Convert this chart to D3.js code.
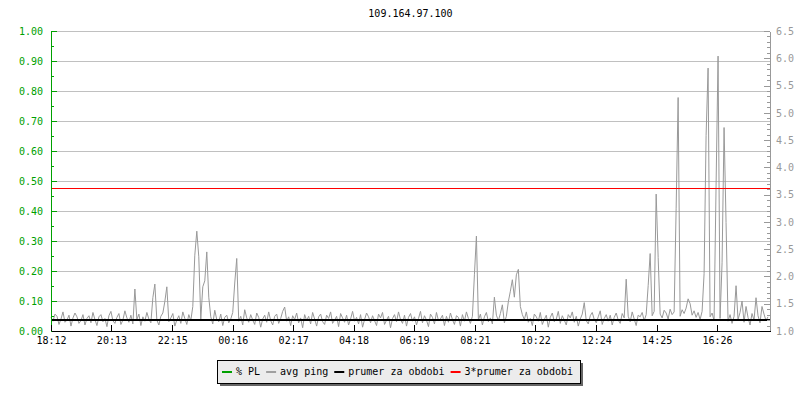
<!DOCTYPE html>
<html><head><meta charset="utf-8">
<script src="https://cdn.jsdelivr.net/npm/d3@7"></script>
<style>
html,body{margin:0;padding:0;background:#fff;}
svg{display:block;font-family:"DejaVu Sans Mono",monospace;font-size:10px;}
</style></head><body>
<svg id="chart" width="800" height="400"></svg>
<script>
// ---------------- data ----------------
const title = "109.164.97.100";
const startLabel = "18:12";
const stepMinutes = 4;
const spanMinutes = 1440;
const timeTickLabels = ["18:12","20:13","22:15","00:16","02:17","04:18","06:19","08:21","10:22","12:24","14:25","16:26"];
const plTickValues = [0,0.1,0.2,0.3,0.4,0.5,0.6,0.7,0.8,0.9,1.0];
const plTickLabels = ["0.00","0.10","0.20","0.30","0.40","0.50","0.60","0.70","0.80","0.90","1.00"];
const pingTickLabels = ["1.0","1.5","2.0","2.5","3.0","3.5","4.0","4.5","5.0","5.5","6.0","6.5"];
const avgPing = 1.204;
const legendLabels = ["% PL","avg ping","prumer za obdobi","3*prumer za obdobi"];
const pingValues = [
1.25,1.18,1.31,1.27,1.12,1.22,1.35,1.16,1.20,1.29,1.09,1.24,1.33,1.26,1.14,1.19,1.30,1.11,1.23,1.28,
1.15,1.34,1.21,1.10,1.26,1.30,1.17,1.23,1.08,1.28,1.36,1.19,1.14,1.25,1.32,1.12,1.20,1.37,1.24,1.16,
1.29,1.13,1.77,1.21,1.31,1.10,1.26,1.18,1.34,1.22,1.15,1.61,1.86,1.20,1.11,1.27,1.33,1.54,1.81,1.17,
1.24,1.32,1.09,1.20,1.28,1.14,1.35,1.23,1.12,1.30,1.19,1.45,2.39,2.83,2.36,1.22,1.81,1.92,2.45,1.62,
1.26,1.13,1.38,1.21,1.17,1.31,1.10,1.25,1.29,1.15,1.22,1.34,1.88,2.33,1.18,1.27,1.11,1.39,1.24,1.16,
1.30,1.20,1.12,1.33,1.25,1.07,1.22,1.29,1.16,1.35,1.19,1.11,1.27,1.31,1.14,1.23,1.36,1.44,1.18,1.26,
1.10,1.28,1.21,1.33,1.15,1.24,1.06,1.30,1.19,1.27,1.13,1.34,1.22,1.09,1.26,1.31,1.17,1.12,1.29,1.23,
1.35,1.14,1.20,1.27,1.08,1.32,1.24,1.16,1.29,1.11,1.22,1.36,1.18,1.25,1.13,1.30,1.07,1.21,1.33,1.26,
1.15,1.28,1.19,1.10,1.31,1.24,1.34,1.12,1.20,1.27,1.06,1.23,1.30,1.17,1.35,1.21,1.14,1.29,1.09,1.25,
1.32,1.18,1.26,1.11,1.23,1.36,1.15,1.28,1.20,1.08,1.31,1.25,1.13,1.34,1.19,1.22,1.29,1.10,1.27,1.16,
1.33,1.21,1.12,1.28,1.25,1.09,1.30,1.18,1.35,1.23,1.14,1.27,2.03,2.74,1.20,1.31,1.11,1.26,1.34,1.17,
1.24,1.13,1.62,1.29,1.19,1.32,1.48,1.15,1.27,1.54,1.73,1.94,1.62,2.03,2.13,1.45,1.30,1.21,1.35,1.16,
1.23,1.10,1.31,1.26,1.18,1.34,1.12,1.21,1.29,1.07,1.25,1.33,1.17,1.22,1.36,1.14,1.28,1.20,1.11,1.30,
1.24,1.35,1.16,1.27,1.09,1.22,1.31,1.52,1.19,1.13,1.28,1.34,1.21,1.15,1.26,1.37,1.12,1.23,1.30,1.18,
1.29,1.11,1.25,1.33,1.20,1.14,1.32,1.24,1.95,1.27,1.17,1.35,1.22,1.10,1.29,1.26,1.34,1.19,1.30,1.83,
2.42,1.28,1.36,3.51,2.35,1.31,1.24,1.38,1.33,1.22,1.40,1.30,1.35,3.24,5.28,1.27,1.39,1.32,1.42,1.59,
1.50,1.29,1.37,1.25,1.34,1.21,1.36,2.05,4.58,5.82,1.26,1.33,1.19,3.66,6.04,1.23,2.25,4.73,2.99,1.18,
1.30,1.14,1.27,1.83,1.21,1.34,1.55,1.16,1.45,1.25,1.11,1.32,1.20,1.61,1.28,1.15,1.45,1.31,1.19,1.26
];
const plValues = [
0,0,0,0,0,0,0,0,0,0,0,0,0,0,0,0,0,0,0,0,0,0,0,0,0,0,0,0,0,0,0,0,0,0,0,0,0,0,0,0,
0,0,0,0,0,0,0,0,0,0,0,0,0,0,0,0,0,0,0,0,0,0,0,0,0,0,0,0,0,0,0,0,0,0,0,0,0,0,0,0,
0,0,0,0,0,0,0,0,0,0,0,0,0,0,0,0,0,0,0,0,0,0,0,0,0,0,0,0,0,0,0,0,0,0,0,0,0,0,0,0,
0,0,0,0,0,0,0,0,0,0,0,0,0,0,0,0,0,0,0,0,0,0,0,0,0,0,0,0,0,0,0,0,0,0,0,0,0,0,0,0,
0,0,0,0,0,0,0,0,0,0,0,0,0,0,0,0,0,0,0,0,0,0,0,0,0,0,0,0,0,0,0,0,0,0,0,0,0,0,0,0,
0,0,0,0,0,0,0,0,0,0,0,0,0,0,0,0,0,0,0,0,0,0,0,0,0,0,0,0,0,0,0,0,0,0,0,0,0,0,0,0,
0,0,0,0,0,0,0,0,0,0,0,0,0,0,0,0,0,0,0,0,0,0,0,0,0,0,0,0,0,0,0,0,0,0,0,0,0,0,0,0,
0,0,0,0,0,0,0,0,0,0,0,0,0,0,0,0,0,0,0,0,0,0,0,0,0,0,0,0,0,0,0,0,0,0,0,0,0,0,0,0,
0,0,0,0,0,0,0,0,0,0,0,0,0,0,0,0,0,0,0,0,0,0,0,0,0,0,0,0,0,0,0,0,0,0,0,0,0,0,0,0
];

// ---------------- styles ----------------
const C = {pl:"#00a000", ping:"#999999", avg:"#000000", avg3:"#ff0000", grid:"#c0c0c0", rightAxis:"#999999"};
const legendColors = [C.pl, "#a0a0a0", C.avg, C.avg3];
const L = {left:51, right:770, top:31, bottom:331};

const svg = d3.select("#chart");
function toMin(s){const [h,m]=s.split(":").map(Number);return h*60+m;}
const t0 = toMin(startLabel);
const tickMins = timeTickLabels.map(s => { let d = toMin(s)-t0; if(d<0) d+=1440; return d; });

const x = d3.scaleLinear().domain([0, spanMinutes]).range([L.left, L.right]);
const yL = d3.scaleLinear().domain([0, 1]).range([L.bottom, L.top]);
const pingNums = pingTickLabels.map(Number);
const yR = d3.scaleLinear().domain([pingNums[0], pingNums[pingNums.length-1]]).range([L.bottom, L.top]);

// title
svg.append("text").attr("x", (L.left+L.right)/2).attr("y", 17).attr("text-anchor","middle").attr("fill","#000").text(title);

// grid
svg.append("g").attr("shape-rendering","crispEdges")
  .selectAll("line").data(plTickValues.filter(v=>v>0)).join("line")
  .attr("x1", L.left).attr("x2", L.right)
  .attr("y1", d=>Math.round(yL(d))+0.5).attr("y2", d=>Math.round(yL(d))+0.5)
  .attr("stroke", C.grid);

// PL line (hidden under the x axis when 0)
svg.append("path").datum(plValues).attr("shape-rendering","crispEdges")
  .attr("fill","none").attr("stroke",C.pl).attr("stroke-width",1)
  .attr("d", d3.line().x((d,i)=>x(i*stepMinutes)).y(d=>Math.round(yL(d))+0.5));

// ping line
svg.append("path").datum(pingValues)
  .attr("fill","none").attr("stroke",C.ping).attr("stroke-width",1)
  .attr("d", d3.line().x((d,i)=>x(i*stepMinutes)).y(d=>yR(d)));

// avg lines
svg.append("line").attr("shape-rendering","crispEdges").attr("x1",L.left).attr("x2",L.right)
  .attr("y1",Math.round(yR(avgPing))).attr("y2",Math.round(yR(avgPing))).attr("stroke",C.avg).attr("stroke-width",2);
svg.append("rect").attr("shape-rendering","crispEdges").attr("x",L.left).attr("width",L.right-L.left)
  .attr("y",Math.floor(yR(3*avgPing))).attr("height",1)
  .attr("fill",C.avg3);

// left axis
const gLm = svg.append("g").attr("transform",`translate(${L.left},0)`).attr("shape-rendering","crispEdges")
  .call(d3.axisLeft(yL).tickValues(d3.range(0.05,1,0.1)).tickSize(-3).tickSizeOuter(0).tickFormat(""));
gLm.select(".domain").remove();
gLm.selectAll("line").attr("stroke",C.pl);
const gL = svg.append("g").attr("transform",`translate(${L.left},0)`).attr("shape-rendering","crispEdges")
  .call(d3.axisLeft(yL).tickValues(plTickValues).tickSize(-6).tickSizeOuter(0).tickPadding(8)
    .tickFormat((d,i)=>plTickLabels[i]));
gL.select(".domain").attr("stroke",C.pl);
gL.selectAll("line").attr("stroke",C.pl);
gL.selectAll("text").attr("fill",C.pl).style("font-family",'"DejaVu Sans Mono",monospace').style("font-size","10px");

// right axis
const gRm = svg.append("g").attr("transform",`translate(${L.right},0)`).attr("shape-rendering","crispEdges")
  .call(d3.axisRight(yR).tickValues(d3.range(1.1,6.5,0.1)).tickSize(-3).tickSizeOuter(0).tickFormat(""));
gRm.select(".domain").remove();
gRm.selectAll("line").attr("stroke",C.rightAxis);
const gR = svg.append("g").attr("transform",`translate(${L.right},0)`).attr("shape-rendering","crispEdges")
  .call(d3.axisRight(yR).tickValues(pingNums).tickSize(-6).tickSizeOuter(0).tickPadding(6)
    .tickFormat((d,i)=>pingTickLabels[i]));
gR.select(".domain").attr("stroke",C.rightAxis);
gR.selectAll("line").attr("stroke",C.rightAxis);
gR.selectAll("text").attr("fill",C.rightAxis).style("font-family",'"DejaVu Sans Mono",monospace').style("font-size","10px");

// bottom axis
const gB = svg.append("g").attr("transform",`translate(0,${L.bottom})`).attr("shape-rendering","crispEdges")
  .call(d3.axisBottom(x).tickValues(tickMins).tickSize(-6).tickSizeOuter(0).tickPadding(6)
    .tickFormat((d,i)=>timeTickLabels[i]));
gB.select(".domain").attr("stroke","#000");
gB.selectAll("line").attr("stroke","#000");
gB.selectAll("text").attr("fill","#000").style("font-family",'"DejaVu Sans Mono",monospace').style("font-size","10px");

// legend
const lg = svg.append("g");
const box = {x:217, y:360, h:23};
const shadow = lg.append("rect").attr("fill","#666666").attr("shape-rendering","crispEdges");
const bg = lg.append("rect").attr("fill","#ececec").attr("stroke","#000").attr("shape-rendering","crispEdges");
let cx = box.x + 5;
legendLabels.forEach((lab,i)=>{
  lg.append("line").attr("x1",cx).attr("x2",cx+10).attr("y1",372).attr("y2",372)
    .attr("stroke",legendColors[i]).attr("stroke-width",2);
  const t = lg.append("text").attr("x",cx+14).attr("y",374.5).attr("fill","#000").text(lab);
  cx = cx + 14 + t.node().getComputedTextLength() + 6;
});
const boxW = Math.round(cx + 1 - box.x);
shadow.attr("x",box.x+3).attr("y",box.y+3).attr("width",boxW).attr("height",box.h);
bg.attr("x",box.x+0.5).attr("y",box.y+0.5).attr("width",boxW).attr("height",box.h);
</script>
</body></html>
